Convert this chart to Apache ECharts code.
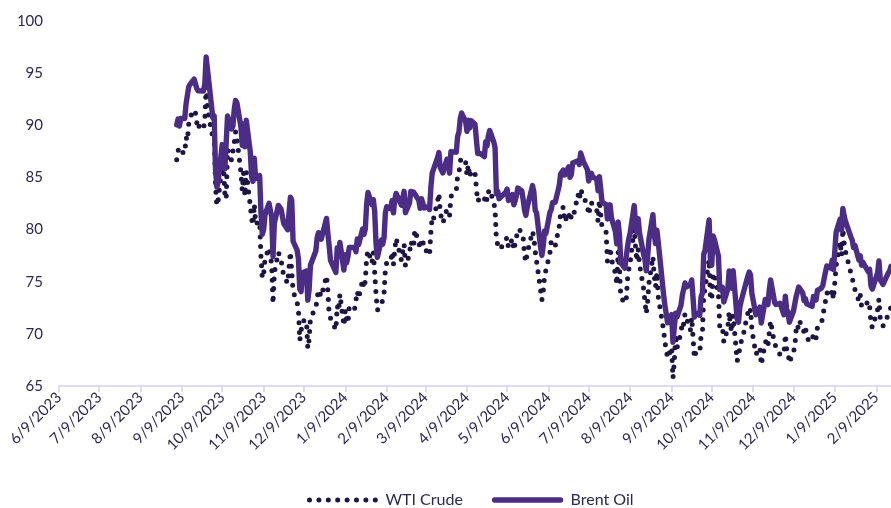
<!DOCTYPE html>
<html>
<head>
<meta charset="utf-8">
<script src="https://cdn.jsdelivr.net/npm/echarts@6/dist/echarts.min.js"></script>
<style>
html,body{margin:0;padding:0;background:#fff;}
#chart{width:891px;height:508px;}
</style>
</head>
<body>
<div id="chart"></div>
<script>
// Axis range (calendar days) and tick labels
const axisStart = "2023-06-09";
const axisEnd = "2025-02-20";
const yTicks = [65, 70, 75, 80, 85, 90, 95, 100];
const seriesNames = ["WTI Crude", "Brent Oil"];

// Trading days per month
const tradingDays = [
  ["2023-09", [5,6,7,8,11,12,13,14,15,18,19,20,21,22,25,26,27,28,29]],
  ["2023-10", [2,3,4,5,6,9,10,11,12,13,16,17,18,19,20,23,24,25,26,27,30,31]],
  ["2023-11", [1,2,3,6,7,8,9,10,13,14,15,16,17,20,21,22,24,27,28,29,30]],
  ["2023-12", [1,4,5,6,7,8,11,12,13,14,15,18,19,20,21,22,26,27,28,29]],
  ["2024-01", [2,3,4,5,8,9,10,11,12,16,17,18,19,22,23,24,25,26,29,30,31]],
  ["2024-02", [1,2,5,6,7,8,9,12,13,14,15,16,20,21,22,23,26,27,28,29]],
  ["2024-03", [1,4,5,6,7,8,11,12,13,14,15,18,19,20,21,22,25,26,27,28]],
  ["2024-04", [1,2,3,4,5,8,9,10,11,12,15,16,17,18,19,22,23,24,25,26,29,30]],
  ["2024-05", [1,2,3,6,7,8,9,10,13,14,15,16,17,20,21,22,23,24,28,29,30,31]],
  ["2024-06", [3,4,5,6,7,10,11,12,13,14,17,18,20,21,24,25,26,27,28]],
  ["2024-07", [1,2,3,5,8,9,10,11,12,15,16,17,18,19,22,23,24,25,26,29,30,31]],
  ["2024-08", [1,2,5,6,7,8,9,12,13,14,15,16,19,20,21,22,23,26,27,28,29,30]],
  ["2024-09", [3,4,5,6,9,10,11,12,13,16,17,18,19,20,23,24,25,26,27,30]],
  ["2024-10", [1,2,3,4,7,8,9,10,11,14,15,16,17,18,21,22,23,24,25,28,29,30,31]],
  ["2024-11", [1,4,5,6,7,8,11,12,13,14,15,18,19,20,21,22,25,26,27,29]],
  ["2024-12", [2,3,4,5,6,9,10,11,12,13,16,17,18,19,20,23,24,26,27,30,31]],
  ["2025-01", [2,3,6,7,8,10,13,14,15,16,17,21,22,23,24,27,28,29,30,31]],
  ["2025-02", [3,4,5,6,7,10,11,12,13,14,18,19,20]]
];

const wtiCrude = [
  86.69,87.54,87.87,87.51,87.29,88.84,88.52,90.16,90.77,91.48,91.20,90.28,89.63,90.03,89.68,90.39,93.68,91.71,90.79,
  88.82,89.23,84.22,82.31,82.79,86.38,85.97,83.49,82.91,87.69,86.66,86.66,88.32,89.37,88.75,85.49,83.74,85.39,83.21,85.54,82.31,81.02,
  80.44,82.46,80.51,80.82,77.37,75.33,75.74,77.17,78.26,78.26,76.66,72.90,75.89,77.83,77.77,77.10,75.54,74.86,76.41,77.86,75.96,
  74.07,73.04,72.32,69.38,69.34,71.23,71.32,68.61,69.47,71.58,71.43,72.47,73.44,74.22,73.89,73.56,75.57,74.11,71.77,71.65,
  70.38,72.70,72.19,73.81,70.77,72.24,71.37,71.02,72.68,72.40,72.56,74.08,73.41,75.19,74.37,75.09,77.36,78.01,76.78,77.82,75.85,
  73.82,72.28,72.78,73.31,73.86,76.22,76.84,76.92,77.87,76.64,78.03,79.19,77.04,77.91,78.61,76.49,77.58,78.87,78.54,78.26,
  79.97,78.74,78.15,79.13,78.93,78.01,77.93,77.56,79.72,81.26,81.04,82.72,83.47,81.68,81.07,80.63,81.95,81.62,81.35,83.17,
  83.71,85.15,85.43,86.59,86.91,86.43,85.23,86.21,85.02,85.66,85.41,85.36,82.69,82.73,83.14,82.85,83.36,82.81,83.57,83.85,82.63,81.93,
  79.00,78.95,78.11,78.48,78.38,78.99,79.26,78.26,79.12,78.02,78.63,79.23,80.06,79.80,79.26,77.57,76.87,77.72,79.83,79.23,77.91,76.99,
  74.22,73.25,74.07,75.55,75.53,77.74,78.90,78.50,78.62,78.45,80.33,81.57,82.17,80.73,81.63,80.83,80.90,81.74,81.54,
  83.38,82.81,83.88,83.16,82.33,81.41,82.10,82.62,82.21,81.91,80.76,82.85,82.82,80.13,79.78,76.96,77.59,78.28,77.16,75.81,74.73,77.91,
  76.31,73.52,72.94,73.20,75.23,76.19,76.84,80.06,78.35,76.98,78.16,76.65,74.37,73.17,71.93,73.01,74.83,77.42,75.53,74.52,75.91,73.55,
  70.34,69.20,69.15,67.67,68.71,65.75,67.31,69.97,68.65,70.09,71.19,70.91,71.95,71.92,70.37,71.56,69.69,67.67,68.18,68.17,
  69.83,70.10,73.71,74.38,77.14,73.57,73.24,75.85,75.56,73.83,70.58,70.39,70.67,69.22,70.56,72.09,70.77,70.19,71.78,67.38,67.21,68.61,69.26,
  69.49,71.47,71.99,71.69,72.36,70.38,68.04,68.12,68.43,68.70,67.02,69.16,69.39,68.87,70.10,71.24,68.94,68.77,68.72,68.00,
  68.10,69.94,68.54,68.30,67.20,68.37,68.59,70.29,70.02,71.29,70.71,70.08,70.58,69.91,69.46,69.24,70.10,69.62,70.60,70.99,71.72,
  73.13,73.96,73.56,74.25,73.32,76.57,78.82,77.50,80.04,78.68,77.88,75.83,75.44,74.62,74.66,73.17,73.77,72.62,72.73,72.53,
  73.16,72.70,71.03,70.61,71.00,72.32,73.32,71.37,71.29,70.74,71.85,72.25,72.57
];

const brentOil = [
  90.04,90.60,89.92,90.65,90.64,92.06,91.88,93.70,93.93,94.43,94.34,93.53,93.30,93.27,93.29,93.96,96.55,95.38,95.31,
  90.71,90.92,85.81,84.07,84.58,88.15,87.65,85.82,86.00,90.89,89.65,89.90,91.50,92.38,92.16,89.83,88.07,90.13,87.93,90.48,87.45,85.02,
  84.63,86.85,84.89,85.18,81.61,79.54,80.01,81.43,82.52,82.47,81.18,77.42,80.61,82.32,82.45,81.96,80.58,79.98,81.68,83.10,82.83,
  78.88,78.03,77.20,74.30,74.05,75.84,76.03,73.24,74.26,76.61,76.55,77.95,79.23,79.70,79.39,79.07,81.07,79.65,78.39,77.04,
  75.89,78.25,77.59,78.76,76.12,77.59,76.80,77.41,78.29,78.29,77.88,79.10,78.56,80.06,79.55,80.04,82.43,83.55,82.40,82.87,81.71,
  78.70,77.33,78.99,78.59,79.21,81.63,82.19,82.00,82.77,81.60,82.86,83.47,82.34,83.03,83.67,81.62,82.53,83.65,83.68,83.62,
  83.55,82.80,82.04,82.96,83.00,82.08,82.21,81.92,84.03,85.42,85.34,86.89,87.38,85.95,85.78,85.43,86.75,86.25,85.41,87.48,
  87.42,88.92,89.35,90.65,91.17,90.38,89.42,90.48,89.74,90.45,90.10,90.02,87.29,87.11,87.29,87.00,88.42,88.02,89.01,89.50,88.40,87.86,
  83.44,83.67,82.96,83.33,83.16,83.58,83.88,82.79,83.36,82.38,82.75,83.27,83.98,83.71,82.88,81.90,81.36,82.12,84.22,83.60,81.86,81.62,
  78.36,77.52,78.41,79.87,79.62,81.63,81.92,82.60,82.75,82.62,84.25,85.33,85.71,85.24,86.01,85.01,85.25,86.39,86.41,
  86.60,86.24,87.34,86.54,85.75,84.66,85.08,85.40,85.03,84.85,83.73,85.08,85.11,82.63,82.40,81.01,81.71,82.37,81.13,79.78,78.63,80.72,
  79.52,76.81,76.30,76.48,78.33,79.16,79.66,82.30,80.69,79.76,81.04,79.68,77.66,77.20,76.05,77.22,79.02,81.43,79.55,78.65,79.94,78.80,
  73.75,72.70,72.69,71.06,71.84,69.19,70.61,71.97,71.61,72.75,73.70,73.65,74.88,74.49,74.73,75.17,73.46,71.60,71.98,71.77,
  73.56,73.90,77.62,78.05,80.93,77.18,76.58,79.40,79.04,77.46,74.25,74.22,74.45,73.06,74.29,76.04,74.96,74.38,76.05,71.42,71.12,72.55,73.16,
  73.10,75.08,75.53,75.92,75.63,73.87,71.83,71.89,72.28,72.56,71.04,73.30,73.31,72.81,74.23,75.17,73.01,72.81,72.83,72.94,
  71.83,73.62,72.31,72.09,71.12,72.14,72.19,73.52,73.41,74.49,73.91,73.19,73.39,72.88,72.94,72.63,73.58,73.26,74.17,74.39,74.64,
  75.93,76.51,76.30,77.05,76.16,79.76,81.01,79.92,82.03,81.29,80.79,79.29,79.00,78.29,78.50,77.08,77.49,76.58,76.87,76.76,
  75.96,76.20,74.61,74.29,74.66,75.87,77.00,75.18,75.02,74.74,75.84,76.04,76.48
];

// ---- build calendar-day category axis ----
function parseISO(s){ const p = s.split("-").map(Number); return Date.UTC(p[0], p[1]-1, p[2]); }
const DAY = 86400000;
const t0 = parseISO(axisStart), t1 = parseISO(axisEnd);
const categories = [];
const catDay = [];
for (let t = t0; t <= t1; t += DAY) {
  const d = new Date(t);
  categories.push((d.getUTCMonth()+1) + "/" + d.getUTCDate() + "/" + d.getUTCFullYear());
  catDay.push(d.getUTCDate());
}
const dateIndex = [];
tradingDays.forEach(([ym, days]) => {
  days.forEach(dd => {
    const iso = ym + "-" + String(dd).padStart(2, "0");
    dateIndex.push(Math.round((parseISO(iso) - t0) / DAY));
  });
});
const wtiData = wtiCrude.map((v, i) => [dateIndex[i], v]);
const brentData = brentOil.map((v, i) => [dateIndex[i], v]);

const textColor = "#2c2850";
const axisColor = "#d6d0f0";
const wtiColor = "#1f1543";
const brentColor = "#4b2d86";
const font = "Lato";

const wtiLine = {color: wtiColor, width: 5, type: [0, 9.6], cap: "round", join: "round"};
const brentLine = {color: brentColor, width: 5.4, type: "solid", cap: "round", join: "round"};

const chart = echarts.init(document.getElementById("chart"), null, {renderer: "canvas"});
chart.setOption({
  animation: false,
  backgroundColor: "#ffffff",
  grid: {left: 59, right: 0, top: 21, bottom: 122, containLabel: false},
  xAxis: {
    type: "category",
    data: categories,
    boundaryGap: false,
    axisLine: {show: true, lineStyle: {color: axisColor, width: 1.5}},
    axisTick: {show: true, length: 6, interval: (i) => catDay[i] === 9, lineStyle: {color: axisColor, width: 1.5}},
    axisLabel: {
      interval: (i) => catDay[i] === 9,
      rotate: 45, margin: 9,
      color: textColor, fontFamily: font, fontSize: 15
    },
    splitLine: {show: false}
  },
  yAxis: {
    type: "value",
    min: yTicks[0], max: yTicks[yTicks.length-1], interval: 5,
    axisLine: {show: false}, axisTick: {show: false},
    splitLine: {show: false},
    axisLabel: {color: textColor, fontFamily: font, fontSize: 15, margin: 16}
  },
  legend: {
    top: 487, left: 302,
    itemWidth: 66, itemHeight: 16, itemGap: 29,
    itemStyle: {opacity: 0, color: "transparent", borderColor: "transparent"},
    textStyle: {color: textColor, fontFamily: font, fontSize: 16, padding: [0, 0, 0, 5]},
    data: [
      {name: seriesNames[0], lineStyle: {width: 5, type: [0, 9.4], cap: "round", color: wtiColor}},
      {name: seriesNames[1], lineStyle: {width: 5.4, type: "solid", cap: "round", color: brentColor}}
    ]
  },
  series: [
    {
      name: seriesNames[0], type: "line", data: wtiData,
      symbol: "none", showSymbol: false,
      lineStyle: wtiLine,
      itemStyle: {color: wtiColor}
    },
    {
      name: seriesNames[1], type: "line", data: brentData,
      symbol: "none", showSymbol: false,
      lineStyle: brentLine,
      itemStyle: {color: brentColor}
    }
  ]
});
</script>
</body>
</html>
